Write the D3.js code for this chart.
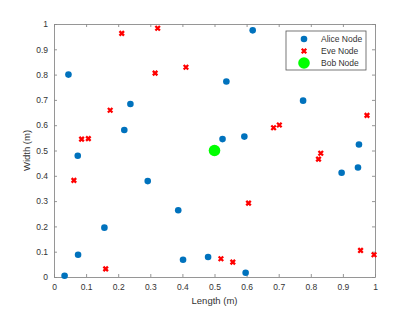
<!DOCTYPE html>
<html>
<head>
<meta charset="utf-8">
<script src="https://cdn.jsdelivr.net/npm/d3@7"></script>
<style>
  body { margin: 0; background: #fff; }
  text { font-family: "Liberation Sans", Arial, sans-serif; }
</style>
</head>
<body>
<div id="chart"></div>
<script>
// Alice nodes (x = length, y = width)
const aliceX = [0.045, 0.238, 0.219, 0.619, 0.537, 0.776, 0.525, 0.593, 0.950, 0.074,
                0.292, 0.387, 0.157, 0.075, 0.033, 0.402, 0.480, 0.896, 0.947, 0.597];
const aliceY = [0.800, 0.684, 0.581, 0.975, 0.773, 0.697, 0.545, 0.555, 0.524, 0.479,
                0.379, 0.264, 0.195, 0.088, 0.005, 0.068, 0.079, 0.412, 0.433, 0.017];
// Eve nodes
const eveX = [0.211, 0.323, 0.315, 0.411, 0.175, 0.086, 0.107, 0.684, 0.702, 0.975,
              0.062, 0.161, 0.824, 0.831, 0.606, 0.520, 0.557, 0.955, 0.997];
const eveY = [0.963, 0.983, 0.806, 0.829, 0.659, 0.545, 0.547, 0.590, 0.601, 0.639,
              0.382, 0.032, 0.466, 0.489, 0.292, 0.072, 0.059, 0.105, 0.088];
// Bob node
const bobX = [0.5];
const bobY = [0.5];

const ticks = [0, 0.1, 0.2, 0.3, 0.4, 0.5, 0.6, 0.7, 0.8, 0.9, 1];
const legendLabels = ["Alice Node", "Eve Node", "Bob Node"];

const width = 415, height = 312;
const margin = {top: 24, right: 40, bottom: 35, left: 54};
const w = width - margin.left - margin.right,
      h = height - margin.top - margin.bottom;

const svg = d3.select("#chart").append("svg")
    .attr("width", width)
    .attr("height", height);

const g = svg.append("g")
    .attr("transform", "translate(" + margin.left + "," + margin.top + ")");

const x = d3.scaleLinear().domain([0, 1]).range([0, w]);
const y = d3.scaleLinear().domain([0, 1]).range([h, 0]);

const lineColor = "#8a8a8a";
const textColor = "#333";
const fmt = d => d === 0 || d === 1 ? String(d) : d.toFixed(1);

// axes, ticks pointing inward like matlab
function styleAxis(sel, showLabels) {
    sel.select(".domain").attr("stroke", lineColor).attr("stroke-width", 0.9);
    sel.selectAll(".tick line").attr("stroke", lineColor).attr("stroke-width", 0.9);
    sel.selectAll(".tick text")
        .attr("fill", textColor)
        .style("font-size", "8.5px")
        .style("display", showLabels ? null : "none");
}

g.append("g").attr("transform", "translate(0," + h + ")")
    .call(d3.axisBottom(x).tickValues(ticks).tickFormat(fmt).tickSizeInner(-3).tickSizeOuter(0).tickPadding(7))
    .call(s => styleAxis(s, true));
g.append("g")
    .call(d3.axisTop(x).tickValues(ticks).tickSizeInner(-3).tickSizeOuter(0))
    .call(s => styleAxis(s, false));
g.append("g")
    .call(d3.axisLeft(y).tickValues(ticks).tickFormat(fmt).tickSizeInner(-3).tickSizeOuter(0).tickPadding(6))
    .call(s => styleAxis(s, true));
g.append("g").attr("transform", "translate(" + w + ",0)")
    .call(d3.axisRight(y).tickValues(ticks).tickSizeInner(-3).tickSizeOuter(0))
    .call(s => styleAxis(s, false));

// axis labels
svg.append("text")
    .attr("x", margin.left + w / 2)
    .attr("y", 304)
    .attr("text-anchor", "middle")
    .style("font-size", "9.5px")
    .attr("fill", textColor)
    .text("Length (m)");
svg.append("text")
    .attr("transform", "translate(30," + (margin.top + h / 2) + ") rotate(-90)")
    .attr("text-anchor", "middle")
    .style("font-size", "9.5px")
    .attr("fill", textColor)
    .text("Width (m)");

const blue = "#0072BD", red = "#FF0000", green = "#00FF00";
const cross = d3.symbol().type(d3.symbolX).size(15);

function drawCross(sel) {
    sel.append("path")
        .attr("d", cross)
        .attr("fill", "none")
        .attr("stroke", red)
        .attr("stroke-width", 2.3);
}

// alice
g.append("g").selectAll("circle")
    .data(aliceX.map((d, i) => [d, aliceY[i]]))
    .enter().append("circle")
    .attr("cx", d => x(d[0]))
    .attr("cy", d => y(d[1]))
    .attr("r", 3.3)
    .attr("fill", blue);

// eve
g.append("g").selectAll("g")
    .data(eveX.map((d, i) => [d, eveY[i]]))
    .enter().append("g")
    .attr("transform", d => "translate(" + x(d[0]) + "," + y(d[1]) + ")")
    .call(drawCross);

// bob
g.append("g").selectAll("circle")
    .data(bobX.map((d, i) => [d, bobY[i]]))
    .enter().append("circle")
    .attr("cx", d => x(d[0]))
    .attr("cy", d => y(d[1]))
    .attr("r", 5.8)
    .attr("fill", green);

// legend
const lg = svg.append("g").attr("transform", "translate(286,31)");
lg.append("rect")
    .attr("width", 80).attr("height", 39)
    .attr("fill", "#fff")
    .attr("stroke", "#555")
    .attr("stroke-width", 0.8);
const rows = lg.selectAll(".row")
    .data(legendLabels)
    .enter().append("g")
    .attr("class", "row")
    .attr("transform", (d, i) => "translate(18," + (8 + i * 12) + ")");
rows.filter((d, i) => i === 0).append("circle").attr("r", 3.3).attr("fill", blue);
rows.filter((d, i) => i === 1).call(drawCross);
rows.filter((d, i) => i === 2).append("circle").attr("r", 5.8).attr("fill", green);
rows.append("text")
    .attr("x", 17)
    .attr("dy", "0.35em")
    .style("font-size", "8.5px")
    .attr("fill", textColor)
    .text(d => d);
</script>
</body>
</html>
